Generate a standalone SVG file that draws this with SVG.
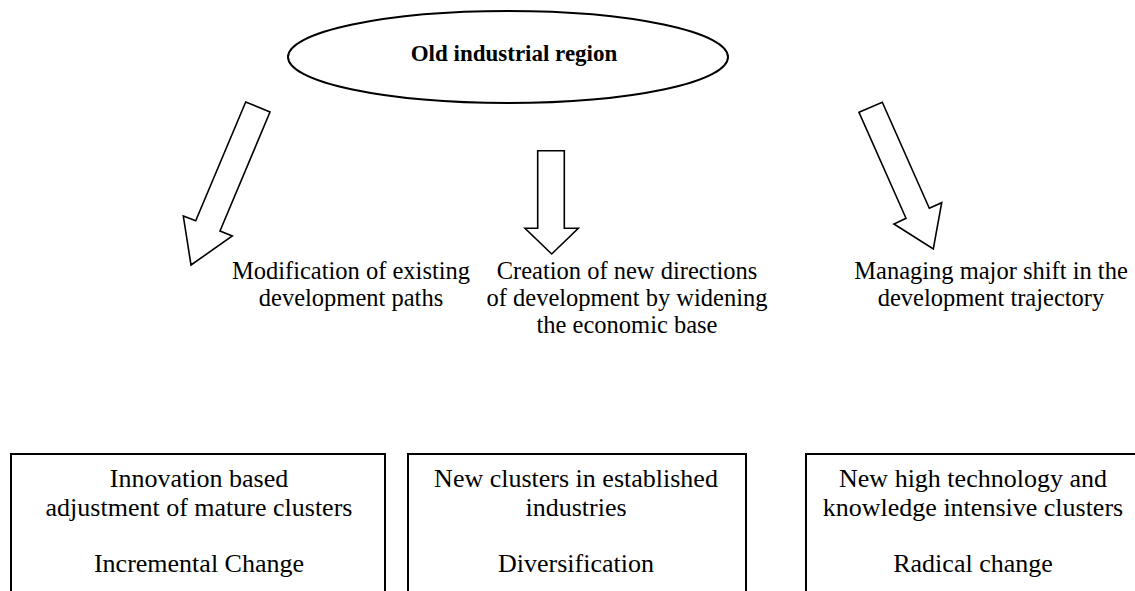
<svg xmlns="http://www.w3.org/2000/svg" width="1135" height="591" viewBox="0 0 1135 591">
  <style>
    .shape { fill: #ffffff; stroke: #000000; stroke-width: 2; stroke-linejoin: miter; }
    .arrow { fill: #ffffff; stroke: #000000; stroke-width: 1.6; stroke-linejoin: miter; }
    .txt { font-family: "Liberation Serif", "Times New Roman", serif; font-size: 26px; fill: #000000; text-anchor: middle; }
    .label { font-size: 24.5px; }
    .bold { font-weight: bold; font-size: 23px; }
  </style>
  <rect x="0" y="0" width="1135" height="591" fill="#ffffff"/>

  <!-- top node -->
  <g id="old-region">
    <ellipse class="shape" cx="508" cy="57" rx="220" ry="46"/>
    <text class="txt bold" x="514" y="61">Old industrial region</text>
  </g>

  <!-- block arrows -->
  <g id="connectors">
    <polygon class="arrow" points="245.7,102 270,112 220,231 232.3,236 191,265 183.3,216 195.7,220.7"/>
    <polygon class="arrow" points="537.7,150.7 564.3,150.7 564.3,228.3 578.3,228.3 551.7,254 525,228.3 537.7,228.3"/>
    <polygon class="arrow" points="859,112.3 882.3,102.3 929.3,208.3 941.7,202.7 933.3,249 894,224 906,218.3"/>
  </g>

  <!-- path labels -->
  <g id="label-modification">
    <text class="txt label" x="351" y="279">Modification of existing</text>
    <text class="txt label" x="351" y="306">development paths</text>
  </g>
  <g id="label-creation">
    <text class="txt label" x="627" y="279">Creation of new directions</text>
    <text class="txt label" x="627" y="306">of development by widening</text>
    <text class="txt label" x="627" y="333">the economic base</text>
  </g>
  <g id="label-managing">
    <text class="txt label" x="991" y="279">Managing major shift in the</text>
    <text class="txt label" x="991" y="306">development trajectory</text>
  </g>

  <!-- outcome boxes -->
  <g id="box-incremental">
    <rect class="shape" x="11" y="454" width="374" height="150"/>
    <text class="txt" x="199" y="487">Innovation based</text>
    <text class="txt" x="199" y="516">adjustment of mature clusters</text>
    <text class="txt" x="199" y="572">Incremental Change</text>
  </g>
  <g id="box-diversification">
    <rect class="shape" x="408" y="454" width="338" height="150"/>
    <text class="txt" x="576" y="487">New clusters in established</text>
    <text class="txt" x="576" y="516">industries</text>
    <text class="txt" x="576" y="572">Diversification</text>
  </g>
  <g id="box-radical">
    <rect class="shape" x="806" y="454" width="340" height="150"/>
    <text class="txt" x="973" y="487">New high technology and</text>
    <text class="txt" x="973" y="516">knowledge intensive clusters</text>
    <text class="txt" x="973" y="572">Radical change</text>
  </g>
</svg>
